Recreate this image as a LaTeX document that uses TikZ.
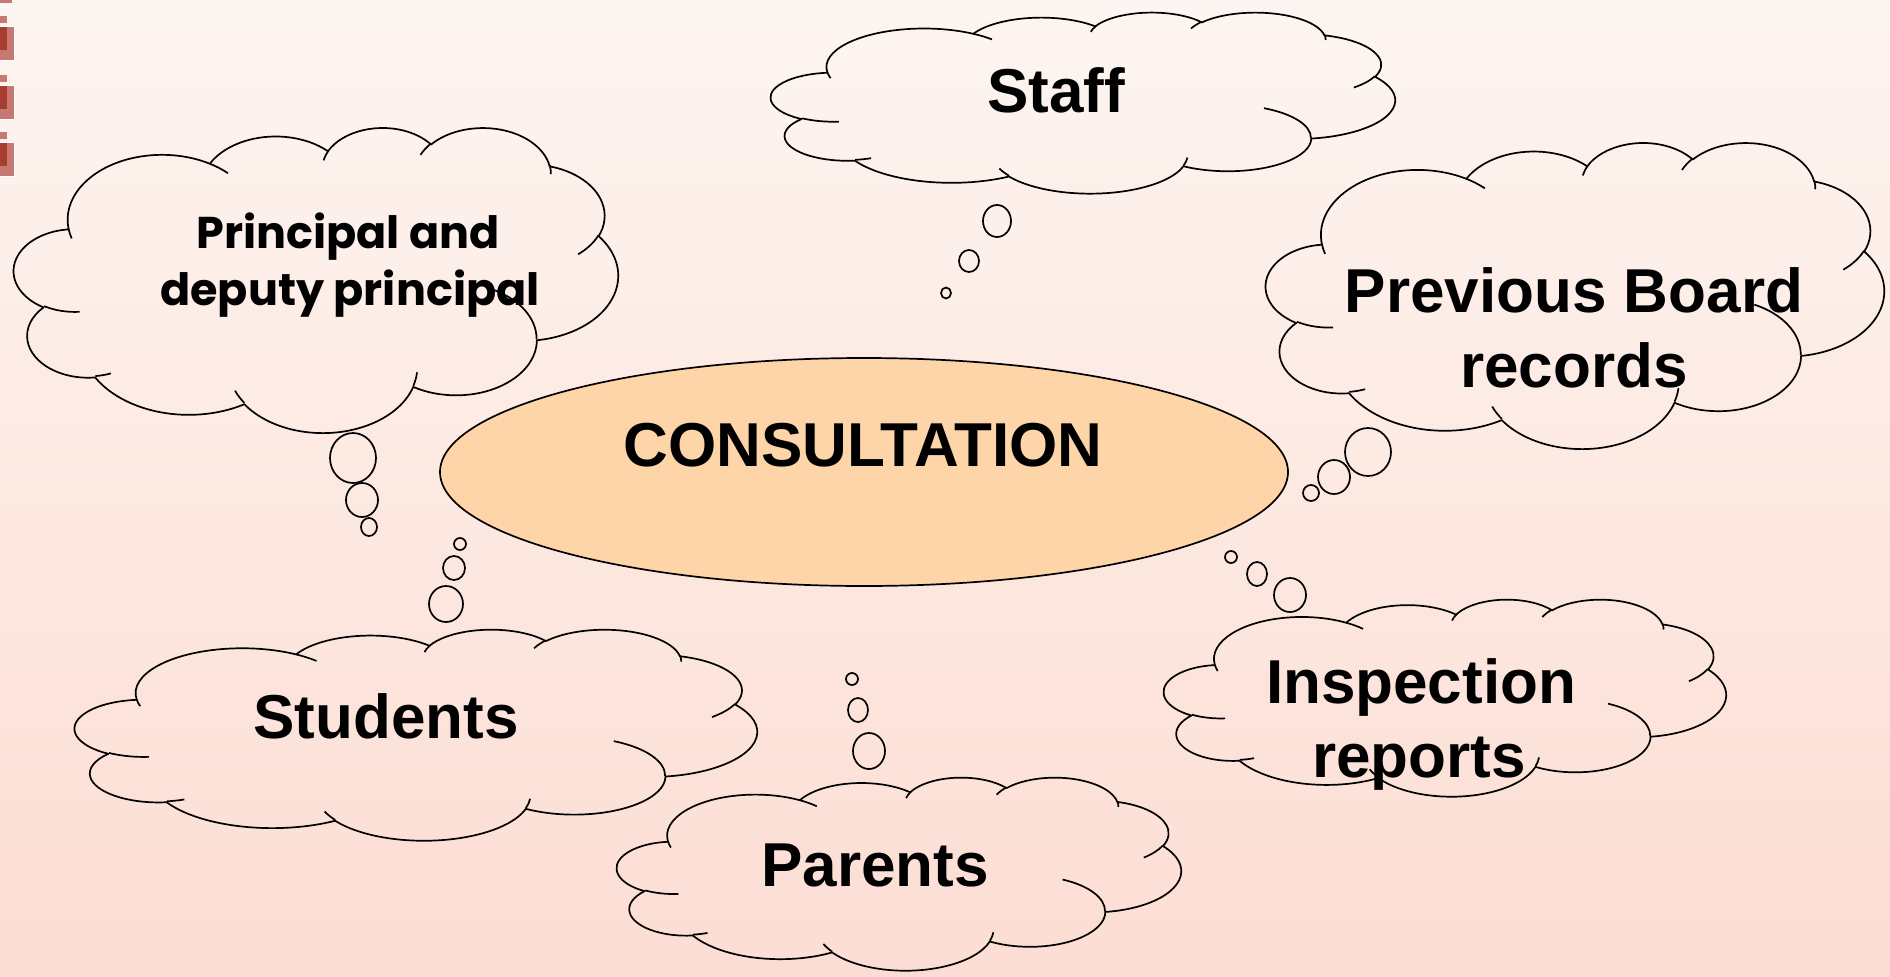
\documentclass[tikz,border=0pt]{standalone}
\usepackage{fontspec}
\setmainfont{Liberation Sans}
\newfontfamily\gothicfont{Poppins}
\usetikzlibrary{shapes.geometric}
\definecolor{bgtop}{RGB}{253,245,241}
\definecolor{bgbot}{RGB}{252,221,211}
\definecolor{peach}{RGB}{253,213,168}
\definecolor{decolight}{RGB}{198,120,114}
\definecolor{decodark}{RGB}{166,61,48}

% OOXML-style elliptical arc (visual angles) appended to a path macro
\newcommand\ooarc[5]{%
  \pgfmathsetmacro\oots{atan2((#2)*sin(#4),(#3)*cos(#4))}%
  \pgfmathsetmacro\ooend{atan2((#2)*sin(#4+#5),(#3)*cos(#4+#5))}%
  \pgfmathsetmacro\oodd{mod(\ooend-\oots+720,360)}%
  \xdef#1{#1 arc[start angle=\oots, delta angle=\oodd, x radius=#2, y radius=#3]}%
}
\def\cloudouter{(3.9,14.37)}
\ooarc\cloudouter{6.753}{9.19}{-190.4875}{123.7805}
\ooarc\cloudouter{5.333}{7.267}{-144.1024}{89.9452}
\ooarc\cloudouter{4.365}{5.945}{-145.8079}{99.7230}
\ooarc\cloudouter{4.857}{6.595}{-130.9861}{117.2417}
\ooarc\cloudouter{5.333}{7.273}{-78.7089}{109.0269}
\ooarc\cloudouter{6.775}{9.22}{-46.2673}{130.2690}
\ooarc\cloudouter{5.785}{7.867}{0.6250}{114.0333}
\ooarc\cloudouter{6.752}{9.215}{22.4516}{115.1726}
\ooarc\cloudouter{7.72}{10.543}{66.2426}{75.7110}
\ooarc\cloudouter{4.36}{5.918}{-274.9421}{146.7356}
\ooarc\cloudouter{4.345}{5.945}{-246.8285}{152.5189}
\xdef\cloudouter{\cloudouter -- cycle}

\def\cloudinner{}
\newcommand\oomove[2]{\xdef\cloudinner{\cloudinner (#1,#2)}}
\oomove{4.693}{26.177}\ooarc\cloudinner{4.345}{5.945}{86.7420}{26.4295}
\oomove{6.928}{34.899}\ooarc\cloudinner{4.36}{5.918}{73.6105}{11.4475}
\oomove{16.478}{39.09}\ooarc\cloudinner{6.752}{9.215}{137.6242}{14.0811}
\oomove{28.827}{34.751}\ooarc\cloudinner{6.752}{9.215}{6.4533}{15.9984}
\oomove{34.129}{22.954}\ooarc\cloudinner{5.785}{7.867}{-70.2924}{70.9174}
\oomove{41.798}{15.354}\ooarc\cloudinner{5.333}{7.273}{30.3180}{27.7515}
\oomove{38.324}{5.426}\ooarc\cloudinner{4.857}{6.595}{-13.7443}{14.8589}
\oomove{29.078}{3.952}\ooarc\cloudinner{4.857}{6.595}{-149.1815}{18.1954}
\oomove{22.141}{4.72}\ooarc\cloudinner{4.365}{5.945}{-163.4943}{17.6864}
\oomove{14.0}{5.192}\ooarc\cloudinner{6.753}{9.19}{-66.7070}{12.3194}
\oomove{4.127}{15.789}\ooarc\cloudinner{6.753}{9.19}{157.6544}{11.8582}

\newcommand\drawcloud[4]{%
  \begin{scope}[shift={(#1,#2)},x=#3pt,y=-#4pt]
    \draw[cloudline] \cloudouter;
    \draw[cloudline] \cloudinner;
  \end{scope}}

\tikzset{
  cloudline/.style={line width=1.7pt, line join=round},
  bubble/.style={draw, line width=1.7pt},
  lbl/.style={font=\bfseries\fontsize{62}{74}\selectfont, inner sep=0pt, anchor=base},
  glbl/.style={font=\gothicfont\bfseries\fontsize{44.5}{52}\selectfont, inner sep=0pt, anchor=base},
}

\begin{document}
\begin{tikzpicture}[x=1pt,y=-1pt]
\useasboundingbox (0,0) rectangle (1890,977);
\shade[top color=bgtop, bottom color=bgbot] (0,0) rectangle (1890,977);

% top-left decoration
\fill[decolight] (0,0) rectangle (12,3);
\foreach \yy in {16,75,132}{
  \fill[decolight] (0,\yy) rectangle (7,\yy+7);
  \fill[decolight, draw=white, line width=1pt] (-1,\yy+10) rectangle (14,\yy+44);
  \fill[decodark] (0,\yy+11) rectangle (7,\yy+34);
}

% central ellipse
\node[ellipse, draw, line width=1.7pt, fill=peach, minimum width=848pt, minimum height=228pt, inner sep=0pt] (cons) at (864,472) {};

% clouds
\drawcloud{771}{12}{14.444}{4.190}     % Staff
\drawcloud{14}{127}{13.981}{7.060}     % Principal
\drawcloud{1266}{142}{14.306}{7.083}   % Previous Board
\drawcloud{75}{629}{15.787}{4.884}     % Students
\drawcloud{617}{777}{13.056}{4.468}    % Parents
\drawcloud{1164}{599}{13.009}{4.560}   % Inspection

% bubbles
\draw[bubble] (997,221) ellipse [x radius=14, y radius=16];
\draw[bubble] (969,261) ellipse [x radius=10, y radius=11];
\draw[bubble] (946,293) ellipse [x radius=5, y radius=5.5];

\draw[bubble] (353,458) ellipse [x radius=23, y radius=25];
\draw[bubble] (362,500) ellipse [x radius=16, y radius=17];
\draw[bubble] (369,527) ellipse [x radius=8, y radius=9];

\draw[bubble] (1368,452) ellipse [x radius=23, y radius=24];
\draw[bubble] (1334,477) ellipse [x radius=16, y radius=17];
\draw[bubble] (1311,493) ellipse [x radius=8, y radius=8];

\draw[bubble] (446,604) ellipse [x radius=17, y radius=18];
\draw[bubble] (454,568) ellipse [x radius=11, y radius=12];
\draw[bubble] (460,544) ellipse [x radius=6, y radius=6];

\draw[bubble] (869,751) ellipse [x radius=16, y radius=18];
\draw[bubble] (858,710) ellipse [x radius=10, y radius=12];
\draw[bubble] (852,679) ellipse [x radius=6, y radius=6];

\draw[bubble] (1290,595) ellipse [x radius=16, y radius=17];
\draw[bubble] (1257,574) ellipse [x radius=10, y radius=12];
\draw[bubble] (1231,557) ellipse [x radius=6, y radius=6];

% labels
\node[lbl] (tcons) at (863,466) {CONSULTATION};
\node[lbl] (tstaff) at (1056,112) {Staff};
\node[glbl] (tprin1) at (348,248) {Principal and};
\node[glbl] (tprin2) at (350,305) {deputy principal};
\node[lbl] (tprev1) at (1574,312) {Previous Board};
\node[lbl] (tprev2) at (1574,387) {records};
\node[lbl] (tstud) at (386,738) {Students};
\node[lbl] (tpar) at (875,886) {Parents};
\node[lbl] (tinsp1) at (1421,703) {Inspection};
\node[lbl] (tinsp2) at (1419,777) {reports};
\end{tikzpicture}
\end{document}
